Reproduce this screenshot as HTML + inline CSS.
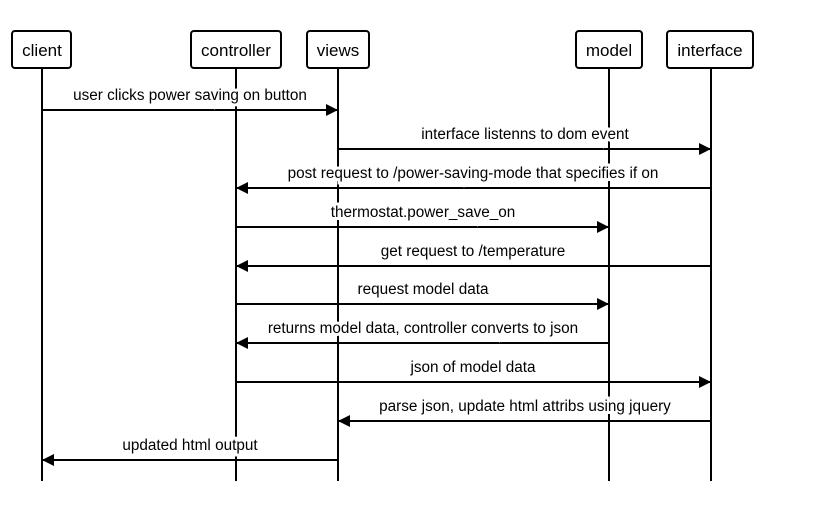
<!DOCTYPE html>
<html><head><meta charset="utf-8"><style>
html,body{margin:0;padding:0;background:#fff;}
svg{display:block;}
text{font-family:"Liberation Sans",Arial,sans-serif;font-size:15.3px;fill:#000;}
</style></head><body>
<svg width="814" height="530" viewBox="0 0 814 530" xmlns="http://www.w3.org/2000/svg">
<defs>
<marker id="a" markerWidth="12" markerHeight="12" refX="12" refY="6" orient="auto" markerUnits="userSpaceOnUse">
<path d="M0,0 L12,6 L0,12 z" fill="#000"/>
</marker>
</defs>
<g stroke="#000" stroke-width="2">
<line x1="42" y1="68" x2="42" y2="481"/>
<line x1="236" y1="68" x2="236" y2="481"/>
<line x1="338" y1="68" x2="338" y2="481"/>
<line x1="609" y1="68" x2="609" y2="481"/>
<line x1="711" y1="68" x2="711" y2="481"/>
</g>
<g fill="#fff" stroke="#000" stroke-width="2">
<rect x="12" y="31" width="59" height="37" rx="3"/>
<rect x="191" y="31" width="90" height="37" rx="3"/>
<rect x="307" y="31" width="62" height="37" rx="3"/>
<rect x="576" y="31" width="66" height="37" rx="3"/>
<rect x="667" y="31" width="86" height="37" rx="3"/>
</g>
<g text-anchor="middle">
<text x="42" y="56" style="font-size:17px">client</text>
<text x="236" y="56" style="font-size:17px">controller</text>
<text x="338" y="56" style="font-size:17px">views</text>
<text x="609" y="56" style="font-size:17px">model</text>
<text x="710" y="56" style="font-size:17px">interface</text>
</g>
<g stroke="#000" stroke-width="2" marker-end="url(#a)">
<line x1="42" y1="110" x2="338" y2="110"/>
<line x1="338" y1="149" x2="711" y2="149"/>
<line x1="711" y1="188" x2="236" y2="188"/>
<line x1="236" y1="227" x2="609" y2="227"/>
<line x1="711" y1="266" x2="236" y2="266"/>
<line x1="236" y1="304" x2="609" y2="304"/>
<line x1="609" y1="343" x2="236" y2="343"/>
<line x1="236" y1="382" x2="711" y2="382"/>
<line x1="711" y1="421" x2="338" y2="421"/>
<line x1="338" y1="460" x2="42" y2="460"/>
</g>
<g text-anchor="middle" style="paint-order:stroke" stroke="#fff" stroke-width="6">
<text x="190" y="100">user clicks power saving on button</text>
<text x="525" y="139">interface listenns to dom event</text>
<text x="473" y="178">post request to /power-saving-mode that specifies if on</text>
<text x="423" y="217">thermostat.power_save_on</text>
<text x="473" y="256">get request to /temperature</text>
<text x="423" y="294">request model data</text>
<text x="423" y="333">returns model data, controller converts to json</text>
<text x="473" y="372">json of model data</text>
<text x="525" y="411">parse json, update html attribs using jquery</text>
<text x="190" y="450">updated html output</text>
</g>
</svg>
</body></html>
